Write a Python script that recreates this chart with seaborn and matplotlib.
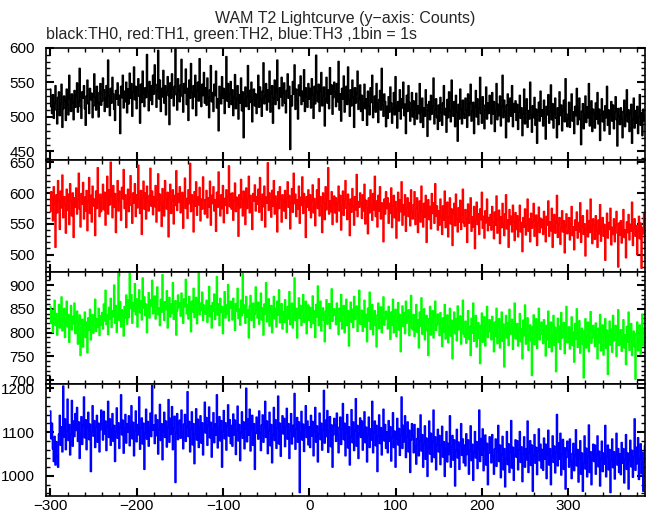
import seaborn as sns
import matplotlib.pyplot as plt
from matplotlib.ticker import MultipleLocator
import pandas as pd
import numpy as np

# counts per 1 s bin, starting at t = -300 s
th0 = [
    540, 515, 505, 532, 498, 520, 545, 510, 490, 528, 536, 502, 519, 547, 485, 512, 530, 524, 495, 540, 517, 503, 560, 526, 508, 533, 521, 496, 538, 514,
    531, 549, 507, 522, 570, 515, 498, 536, 527, 545, 512, 488, 530, 553, 519, 505, 541, 525, 534, 499, 516, 562, 528, 510, 544, 521, 500, 535, 548, 517,
    523, 556, 539, 508, 527, 545, 514, 582, 530, 502, 541, 520, 557, 533, 511, 495, 538, 526, 549, 517, 531, 476, 544, 528, 560, 513, 537, 522, 550, 506,
    540, 519, 563, 527, 548, 501, 536, 572, 525, 544, 512, 539, 555, 530, 491, 547, 521, 566, 533, 515, 542, 528, 590, 537, 509, 551, 524, 545, 518, 560,
    533, 575, 547, 514, 538, 596, 526, 553, 508, 541, 529, 567, 520, 545, 503, 536, 558, 531, 489, 549, 527, 562, 540, 516, 544, 598, 532, 510, 555, 538,
    522, 546, 583, 530, 507, 548, 535, 569, 518, 541, 495, 553, 527, 577, 536, 512, 545, 529, 560, 502, 538, 550, 523, 584, 534, 515, 547, 531, 564, 520,
    542, 517, 556, 528, 499, 539, 574, 522, 535, 508, 547, 531, 566, 513, 526, 480, 544, 532, 519, 558, 527, 541, 505, 537, 587, 523, 548, 514, 533, 551,
    518, 539, 502, 528, 561, 512, 526, 545, 497, 532, 520, 556, 509, 536, 470, 524, 543, 515, 529, 574, 511, 538, 521, 550, 493, 527, 540, 516, 533, 505,
    528, 560, 514, 543, 525, 501, 537, 578, 519, 531, 548, 510, 539, 522, 566, 507, 534, 545, 491, 527, 553, 518, 536, 582, 524, 512, 542, 529, 557, 516,
    535, 549, 520, 506, 538, 562, 527, 544, 453, 530, 516, 551, 533, 575, 511, 540, 525, 497, 546, 531, 559, 518, 537, 523, 568, 508, 542, 529, 514, 548,
    526, 541, 513, 555, 532, 498, 544, 519, 589, 535, 522, 547, 508, 538, 564, 516, 530, 543, 487, 526, 557, 520, 539, 512, 571, 533, 546, 504, 528, 550,
    537, 515, 548, 522, 580, 510, 533, 494, 541, 526, 559, 507, 530, 544, 518, 572, 525, 501, 539, 516, 553, 528, 485, 542, 520, 534, 566, 511, 527, 546,
    508, 531, 495, 520, 547, 512, 526, 488, 537, 516, 503, 542, 521, 560, 499, 514, 530, 507, 548, 519, 492, 525, 538, 510, 570, 517, 501, 533, 522, 486,
    515, 498, 529, 507, 543, 520, 491, 512, 535, 503, 558, 516, 484, 522, 509, 539, 497, 526, 513, 550, 502, 518, 476, 531, 508, 545, 521, 494, 511, 535,
    500, 523, 489, 511, 534, 497, 516, 505, 548, 492, 508, 527, 485, 513, 501, 539, 518, 472, 509, 522, 496, 531, 504, 515, 556, 490, 510, 526, 499, 482,
    517, 494, 528, 506, 488, 520, 545, 503, 512, 478, 525, 499, 536, 509, 493, 553, 514, 501, 522, 486, 531, 507, 465, 518, 497, 540, 511, 490, 524, 504,
    498, 527, 510, 485, 533, 502, 519, 547, 494, 508, 521, 476, 515, 538, 500, 526, 489, 512, 557, 505, 491, 529, 517, 483, 510, 543, 497, 520, 505, 531,
    513, 490, 535, 504, 522, 479, 510, 548, 496, 518, 502, 530, 487, 515, 560, 499, 524, 508, 470, 517, 533, 493, 511, 527, 501, 545, 486, 519, 507, 523,
    495, 518, 482, 507, 531, 498, 513, 473, 504, 540, 490, 512, 526, 485, 509, 497, 550, 503, 478, 516, 499, 528, 488, 511, 462, 506, 521, 494, 537, 501,
    510, 487, 524, 499, 468, 515, 503, 532, 491, 508, 546, 496, 519, 484, 505, 527, 498, 470, 513, 489, 536, 502, 517, 480, 509, 524, 493, 555, 504, 486,
    498, 521, 485, 510, 533, 494, 507, 476, 515, 502, 541, 489, 512, 527, 496, 460, 508, 519, 483, 503, 530, 492, 514, 499, 548, 487, 506, 523, 479, 511,
    505, 484, 520, 497, 535, 490, 511, 466, 503, 526, 493, 508, 480, 516, 499, 544, 488, 510, 475, 502, 522, 494, 517, 483, 507, 529, 496, 458, 512, 501,
    489, 513, 497, 470, 508, 524, 486, 502, 539, 493, 510, 479, 505, 518, 462, 496, 527, 484, 509, 491, 515, 476, 500, 532, 488, 506, 473, 511, 494, 503,
]
th1 = [
    570, 602, 591, 555, 610, 583, 512, 597, 568, 620, 588, 541, 603, 576, 629, 560, 594, 581, 535, 606, 572, 598, 549, 615, 587, 563, 600, 528, 592, 577,
    608, 566, 589, 632, 574, 545, 599, 582, 617, 558, 593, 571, 604, 539, 586, 625, 567, 596, 553, 611, 579, 590, 531, 603, 575, 641, 584, 562, 598, 570,
    592, 614, 573, 601, 548, 589, 627, 566, 605, 581, 650, 594, 560, 612, 577, 599, 536, 587, 620, 571, 603, 585, 556, 609, 591, 638, 575, 597, 544, 583,
    606, 570, 593, 628, 580, 551, 600, 584, 615, 562, 597, 576, 645, 589, 567, 604, 533, 592, 619, 574, 600, 558, 611, 586, 571, 596, 640, 579, 603, 565,
    594, 578, 612, 553, 589, 631, 571, 598, 582, 546, 607, 586, 563, 620, 590, 574, 601, 529, 593, 614, 567, 588, 605, 550, 596, 580, 636, 572, 599, 585,
    610, 568, 587, 601, 543, 595, 624, 575, 591, 559, 605, 583, 648, 570, 597, 586, 537, 602, 579, 618, 564, 593, 581, 609, 555, 590, 574, 626, 588, 566,
    589, 604, 560, 592, 577, 619, 548, 596, 583, 610, 571, 589, 538, 601, 577, 634, 586, 563, 597, 575, 612, 552, 591, 580, 605, 567, 594, 644, 578, 599,
    574, 600, 556, 588, 616, 570, 593, 581, 530, 597, 576, 622, 589, 563, 603, 585, 549, 608, 575, 592, 627, 568, 596, 582, 541, 599, 587, 613, 571, 594,
    582, 606, 569, 625, 590, 556, 598, 578, 611, 545, 593, 584, 649, 572, 600, 587, 561, 604, 579, 620, 566, 595, 583, 537, 602, 575, 610, 590, 553, 597,
    588, 571, 604, 559, 592, 618, 577, 596, 542, 585, 607, 569, 632, 583, 598, 562, 589, 574, 611, 551, 593, 580, 626, 567, 599, 586, 528, 594, 577, 605,
    572, 597, 560, 588, 613, 568, 591, 547, 582, 605, 575, 623, 563, 594, 579, 536, 600, 584, 557, 610, 573, 590, 641, 566, 587, 570, 602, 549, 581, 595,
    568, 592, 553, 584, 611, 571, 596, 540, 579, 603, 564, 587, 620, 575, 557, 598, 582, 531, 590, 569, 607, 578, 548, 594, 573, 630, 562, 586, 577, 600,
    583, 559, 597, 571, 614, 550, 588, 576, 534, 592, 568, 605, 580, 556, 599, 573, 627, 562, 587, 545, 596, 571, 610, 558, 584, 577, 521, 590, 566, 602,
    575, 592, 551, 583, 567, 608, 544, 579, 596, 560, 586, 527, 573, 601, 555, 589, 570, 618, 548, 581, 565, 597, 538, 576, 592, 562, 584, 547, 605, 569,
    558, 581, 602, 549, 574, 592, 536, 566, 587, 553, 611, 570, 545, 583, 561, 596, 520, 575, 589, 557, 578, 542, 599, 567, 584, 551, 615, 563, 579, 540,
    571, 548, 590, 562, 533, 579, 556, 603, 544, 567, 585, 529, 561, 592, 550, 574, 515, 566, 583, 547, 598, 559, 537, 576, 553, 588, 541, 564, 606, 552,
    546, 573, 558, 520, 582, 551, 569, 592, 538, 561, 545, 578, 510, 556, 585, 549, 566, 533, 574, 557, 601, 543, 562, 527, 571, 552, 590, 539, 560, 548,
    565, 540, 578, 553, 526, 569, 548, 595, 535, 557, 572, 518, 561, 544, 583, 550, 531, 566, 597, 542, 556, 512, 573, 549, 562, 537, 580, 554, 523, 568,
    541, 563, 529, 556, 580, 537, 552, 505, 560, 545, 574, 532, 549, 590, 538, 558, 521, 567, 543, 553, 583, 530, 547, 564, 515, 551, 577, 536, 559, 544,
    557, 533, 570, 542, 521, 562, 548, 587, 530, 553, 539, 575, 512, 546, 565, 535, 552, 596, 528, 549, 560, 517, 543, 571, 537, 555, 503, 547, 566, 534,
    538, 560, 524, 549, 578, 531, 545, 508, 556, 540, 569, 527, 552, 537, 584, 520, 546, 563, 533, 550, 498, 541, 572, 529, 555, 536, 590, 544, 518, 558,
    547, 525, 563, 539, 512, 556, 534, 581, 522, 545, 560, 530, 549, 491, 538, 567, 527, 552, 541, 575, 516, 544, 533, 558, 521, 548, 570, 535, 480, 551,
    532, 555, 519, 546, 573, 528, 540, 495, 553, 536, 565, 524, 549, 538, 585, 515, 543, 558, 530, 547, 500, 539, 562, 526, 551, 478, 544, 534, 567, 521,
]
th2 = [
    855, 820, 847, 801, 832, 868, 815, 840, 795, 826, 859, 810, 836, 875, 804, 829, 851, 790, 823, 866, 812, 838, 780, 827, 857, 806, 834, 819, 862, 798,
    821, 845, 776, 818, 837, 752, 809, 828, 770, 815, 843, 790, 822, 758, 831, 806, 849, 785, 817, 838, 799, 826, 870, 803, 829, 812, 851, 794, 835, 816,
    842, 808, 860, 825, 889, 817, 838, 796, 853, 829, 872, 811, 846, 834, 900, 820, 857, 801, 840, 928, 826, 865, 812, 848, 836, 793, 855, 831, 879, 818,
    869, 832, 925, 851, 880, 820, 862, 845, 903, 838, 871, 812, 856, 890, 842, 866, 827, 915, 852, 875, 836, 860, 800, 848, 884, 831, 869, 857, 910, 840,
    846, 877, 829, 861, 896, 838, 852, 815, 870, 843, 922, 857, 826, 865, 849, 888, 810, 855, 874, 833, 860, 842, 905, 828, 851, 867, 795, 846, 879, 853,
    862, 835, 883, 848, 820, 871, 855, 912, 840, 859, 829, 876, 851, 802, 866, 844, 893, 832, 857, 874, 819, 853, 930, 838, 862, 847, 885, 826, 858, 843,
    839, 868, 822, 851, 897, 834, 856, 810, 863, 845, 881, 828, 849, 918, 837, 860, 815, 872, 843, 855, 798, 846, 886, 831, 858, 840, 901, 825, 852, 866,
    853, 827, 872, 838, 805, 861, 845, 893, 830, 849, 816, 868, 836, 924, 842, 858, 820, 876, 833, 847, 789, 855, 878, 826, 844, 862, 811, 839, 896, 848,
    831, 864, 818, 846, 883, 827, 852, 795, 860, 840, 905, 823, 849, 871, 814, 843, 857, 800, 838, 876, 829, 851, 812, 866, 837, 890, 821, 845, 861, 808,
    844, 822, 869, 836, 801, 855, 829, 886, 817, 848, 862, 810, 838, 915, 826, 851, 789, 843, 873, 830, 857, 815, 847, 880, 822, 839, 866, 798, 834, 858,
    826, 853, 811, 840, 877, 819, 846, 790, 859, 833, 898, 815, 842, 866, 804, 837, 852, 826, 781, 845, 869, 818, 838, 861, 809, 848, 892, 824, 836, 850,
    841, 817, 862, 829, 796, 851, 824, 880, 808, 843, 857, 800, 833, 870, 815, 846, 772, 837, 864, 822, 849, 811, 876, 828, 839, 856, 803, 831, 889, 818,
    819, 847, 803, 832, 868, 812, 838, 781, 851, 825, 885, 807, 834, 859, 796, 829, 846, 815, 770, 837, 862, 809, 830, 854, 800, 841, 875, 816, 828, 845,
    833, 808, 855, 821, 786, 843, 816, 870, 800, 835, 849, 792, 825, 863, 806, 838, 760, 829, 856, 813, 841, 798, 866, 820, 831, 848, 794, 823, 878, 810,
    806, 838, 792, 822, 859, 801, 827, 768, 843, 814, 873, 797, 824, 850, 785, 818, 836, 804, 752, 829, 855, 795, 820, 846, 789, 832, 866, 805, 817, 839,
    820, 794, 842, 808, 771, 831, 801, 859, 787, 823, 837, 779, 812, 851, 793, 826, 745, 816, 843, 798, 829, 783, 856, 806, 818, 835, 776, 810, 868, 797,
    791, 824, 778, 807, 846, 786, 813, 752, 830, 799, 862, 782, 809, 836, 770, 803, 821, 788, 735, 815, 841, 780, 805, 833, 772, 819, 855, 790, 802, 827,
    811, 785, 834, 799, 760, 822, 793, 851, 777, 815, 829, 768, 804, 843, 782, 818, 728, 808, 836, 789, 820, 773, 849, 797, 810, 828, 765, 801, 862, 788,
    787, 819, 772, 803, 840, 781, 808, 745, 826, 794, 858, 776, 805, 831, 763, 798, 816, 783, 710, 812, 837, 775, 800, 829, 767, 814, 851, 785, 796, 822,
    804, 777, 827, 792, 751, 815, 785, 845, 769, 808, 822, 760, 797, 836, 773, 811, 718, 801, 830, 780, 813, 765, 842, 789, 803, 821, 756, 794, 855, 779,
    781, 812, 766, 797, 833, 773, 801, 738, 819, 786, 850, 769, 798, 825, 757, 791, 809, 776, 705, 804, 829, 768, 793, 822, 760, 807, 844, 778, 789, 815,
    798, 771, 820, 786, 745, 809, 779, 838, 762, 801, 816, 753, 790, 829, 767, 805, 712, 795, 824, 774, 807, 759, 836, 783, 797, 815, 750, 788, 848, 773,
    776, 806, 761, 791, 827, 768, 795, 733, 813, 780, 843, 763, 792, 819, 752, 786, 803, 771, 702, 798, 822, 762, 787, 816, 755, 801, 838, 772, 784, 809,
]
th3 = [
    1148, 1085, 1120, 1062, 1033, 1090, 1025, 1078, 1045, 1020, 1095, 1138, 1070, 1112, 1055, 1205, 1089, 1130, 1060, 1102, 1175, 1081, 1117, 1048, 1096, 1172, 1068, 1125, 1090, 1142,
    1104, 1156, 1079, 1123, 1040, 1098, 1135, 1072, 1115, 1180, 1087, 1128, 1060, 1109, 1145, 1083, 1118, 1010, 1100, 1160, 1091, 1126, 1065, 1112, 1138, 1077, 1120, 1055, 1105, 1150,
    1118, 1082, 1147, 1096, 1125, 1058, 1113, 1170, 1088, 1130, 1070, 1107, 1142, 1079, 1115, 1033, 1101, 1155, 1086, 1121, 1063, 1110, 1185, 1094, 1127, 1052, 1108, 1140, 1075, 1119,
    1100, 1137, 1069, 1114, 1160, 1085, 1122, 1046, 1103, 1148, 1078, 1117, 1094, 1180, 1061, 1109, 1132, 1073, 1120, 1015, 1097, 1152, 1084, 1124, 1068, 1112, 1143, 1090, 1206, 1105,
    1116, 1074, 1139, 1092, 1128, 1050, 1106, 1163, 1081, 1119, 1037, 1101, 1145, 1088, 1125, 1066, 1111, 1174, 1077, 1131, 1095, 1158, 1060, 1108, 1136, 985, 1099, 1142, 1083, 1120,
    1127, 1086, 1150, 1100, 1062, 1118, 1140, 1079, 1113, 1192, 1090, 1124, 1055, 1107, 1146, 1071, 1119, 1028, 1096, 1153, 1082, 1129, 1065, 1110, 1137, 1075, 1121, 1048, 1104, 1168,
    1098, 1133, 1070, 1115, 1157, 1087, 1122, 1043, 1106, 1144, 1076, 1118, 1093, 1185, 1064, 1110, 1135, 1080, 1126, 1020, 1102, 1149, 1085, 1121, 1059, 1113, 1162, 1091, 1128, 1074,
    1115, 1068, 1141, 1094, 1127, 1049, 1103, 1159, 1080, 1117, 1035, 1099, 1146, 1086, 1123, 1062, 1108, 1200, 1078, 1130, 1093, 1152, 1057, 1105, 1138, 1070, 1119, 1015, 1097, 1134,
    1122, 1084, 1148, 1098, 1058, 1116, 1139, 1077, 1111, 1170, 1088, 1125, 1051, 1104, 1145, 1069, 1117, 1030, 1094, 1156, 1081, 1128, 1063, 1109, 1182, 1073, 1120, 1045, 1102, 1137,
    1096, 1131, 1067, 1112, 1154, 1084, 1119, 1040, 1103, 1142, 1073, 1115, 1090, 1188, 1061, 1107, 1133, 1077, 1123, 962, 1099, 1147, 1082, 1118, 1056, 1110, 1160, 1088, 1125, 1071,
    1112, 1065, 1138, 1091, 1124, 1046, 1100, 1156, 1077, 1114, 1032, 1096, 1143, 1083, 1120, 1059, 1105, 1195, 1075, 1127, 1090, 1149, 1054, 1102, 1135, 1067, 1116, 1020, 1094, 1131,
    1115, 1079, 1143, 1093, 1053, 1111, 1134, 1072, 1106, 1165, 1083, 1120, 1046, 1099, 1140, 1064, 1112, 1025, 1089, 1151, 1076, 1123, 1058, 1104, 1176, 1068, 1115, 1040, 1097, 1132,
    1088, 1125, 1059, 1104, 1146, 1076, 1111, 1032, 1095, 1134, 1065, 1107, 1082, 1170, 1053, 1099, 1125, 1069, 1115, 1010, 1091, 1139, 1074, 1110, 1048, 1102, 1152, 1080, 1117, 1063,
    1100, 1053, 1126, 1079, 1112, 1034, 1088, 1144, 1065, 1102, 1020, 1084, 1131, 1071, 1108, 1047, 1093, 1180, 1063, 1115, 1078, 1137, 1042, 1090, 1123, 1055, 1104, 1008, 1082, 1119,
    1091, 1053, 1117, 1067, 1027, 1085, 1108, 1046, 1080, 1139, 1057, 1094, 1020, 1073, 1114, 1038, 1086, 999, 1063, 1125, 1050, 1097, 1032, 1078, 1150, 1042, 1089, 1014, 1071, 1106,
    1055, 1092, 1026, 1071, 1113, 1043, 1078, 999, 1062, 1101, 1032, 1074, 1049, 1137, 1020, 1066, 1092, 1036, 1082, 977, 1058, 1106, 1041, 1077, 1015, 1069, 1119, 1047, 1084, 1030,
    1070, 1023, 1096, 1049, 1082, 1004, 1058, 1114, 1035, 1072, 990, 1054, 1101, 1041, 1078, 1017, 1063, 1150, 1033, 1085, 1048, 1107, 1012, 1060, 1093, 1025, 1074, 980, 1052, 1089,
    1068, 1030, 1094, 1044, 1004, 1061, 1084, 1022, 1056, 1115, 1033, 1070, 996, 1049, 1090, 1014, 1062, 975, 1039, 1101, 1026, 1073, 1008, 1054, 1126, 1018, 1065, 990, 1047, 1082,
    1043, 1080, 1014, 1059, 1101, 1031, 1066, 987, 1050, 1089, 1020, 1062, 1037, 1125, 1008, 1054, 1080, 1024, 1070, 965, 1046, 1094, 1029, 1065, 1003, 1057, 1107, 1035, 1072, 1018,
    1060, 1013, 1086, 1039, 1072, 994, 1048, 1104, 1025, 1062, 980, 1044, 1091, 1031, 1068, 1007, 1053, 1140, 1023, 1075, 1038, 1097, 1002, 1050, 1083, 1015, 1064, 970, 1042, 1079,
    1058, 1020, 1084, 1034, 994, 1051, 1074, 1012, 1046, 1105, 1023, 1060, 986, 1039, 1080, 1004, 1052, 965, 1029, 1091, 1016, 1063, 998, 1044, 1116, 1008, 1055, 980, 1037, 1072,
    1033, 1070, 1004, 1049, 1091, 1021, 1056, 977, 1040, 1079, 1010, 1052, 1027, 1115, 998, 1044, 1070, 1014, 1060, 962, 1036, 1084, 1019, 1055, 993, 1047, 1097, 1025, 1062, 1008,
    1050, 1003, 1076, 1029, 1062, 984, 1038, 1094, 1015, 1052, 970, 1034, 1081, 1021, 1058, 997, 1043, 1130, 1013, 1065, 1028, 1087, 992, 1040, 1073, 1005, 1054, 965, 1032, 1069,
]

t_start = -300
series = [th0, th1, th2, th3]
colors = ['black', '#ff0000', '#00ff00', '#0000ff']
ylims = [(438, 600), (472, 654), (692, 928), (954, 1210)]
ymajor = [50, 50, 50, 100]
yminor = [10, 10, 10, 20]

sns.set_theme(style='ticks')
plt.rcParams['font.family'] = ['Liberation Sans', 'DejaVu Sans']
plt.rcParams['axes.linewidth'] = 1.2

fig = plt.figure(figsize=(6.52, 5.15), dpi=100)
left, right = 46 / 652, 645 / 652
top, bottom = 1 - 47.7 / 515, 1 - 496 / 515
h = (top - bottom) / 4

for i, (vals, col) in enumerate(zip(series, colors)):
    ax = fig.add_axes([left, top - (i + 1) * h, right - left, h])
    df = pd.DataFrame({'time': np.arange(t_start, t_start + len(vals)), 'counts': vals})
    sns.lineplot(data=df, x='time', y='counts', ax=ax, color=col, linewidth=1.2,
                 drawstyle='steps-mid')
    ax.set_xlim(-305, 389)
    ax.set_ylim(*ylims[i])
    ax.set_xlabel('')
    ax.set_ylabel('')
    ax.xaxis.set_major_locator(MultipleLocator(100))
    ax.xaxis.set_minor_locator(MultipleLocator(20))
    ax.yaxis.set_major_locator(MultipleLocator(ymajor[i]))
    ax.yaxis.set_minor_locator(MultipleLocator(yminor[i]))
    ax.tick_params(which='both', direction='in', top=True, right=True, colors='black')
    ax.tick_params(which='major', length=6, width=1.5, labelsize=11)
    ax.tick_params(which='minor', length=3, width=1)
    ax.tick_params(axis='y', pad=8)
    ax.tick_params(axis='x', pad=2.5)
    if i < 3:
        ax.tick_params(labelbottom=False)
    for s in ax.spines.values():
        s.set_color('black')

fig.text((left + right) / 2, 1 - 18 / 515, 'WAM T2 Lightcurve (y\u2212axis: Counts)',
         ha='center', va='center', fontsize=11.5)
fig.text(left, 1 - 35 / 515, 'black:TH0, red:TH1, green:TH2, blue:TH3 ,1bin = 1s',
         ha='left', va='center', fontsize=11.5)

fig.savefig('out.png', dpi=100)
